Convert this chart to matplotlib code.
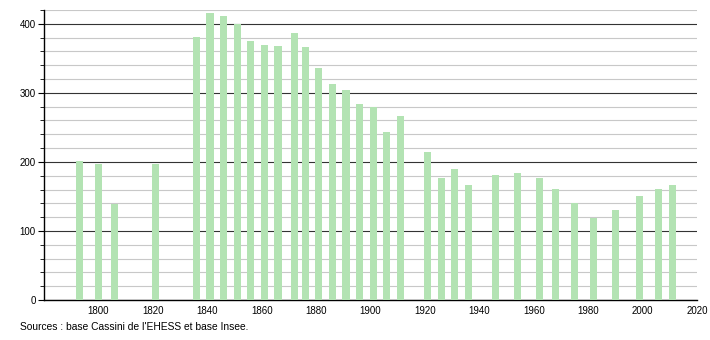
import matplotlib.pyplot as plt
import numpy as np

plt.rcParams['font.family'] = ['Liberation Sans', 'DejaVu Sans']

years = [1793, 1800, 1806, 1821, 1836, 1841, 1846, 1851, 1856, 1861, 1866, 1872,
         1876, 1881, 1886, 1891, 1896, 1901, 1906, 1911, 1921, 1926, 1931, 1936,
         1946, 1954, 1962, 1968, 1975, 1982, 1990, 1999, 2006, 2011]
population = [201, 197, 139, 197, 381, 415, 411, 400, 375, 370, 368, 387,
              366, 336, 313, 304, 284, 279, 243, 267, 214, 176, 190, 167,
              181, 184, 177, 161, 140, 119, 130, 150, 161, 167]
source_text = "Sources : base Cassini de l'EHESS et base Insee."

fig = plt.figure(figsize=(7.1, 3.4), dpi=100)
ax = fig.add_axes([44/710, 1 - 300/340, 653/710, 290/340])

ax.bar(years, population, width=2.6, color='#b3e3b3', zorder=3)

ax.set_xlim(1780, 2020)
ax.set_ylim(0, 420)
ax.set_xticks(range(1800, 2021, 20))
ax.set_yticks(range(0, 401, 100))
ax.set_yticks(range(0, 421, 20), minor=True)

ax.grid(which='minor', axis='y', color='#c8c8c8', linewidth=0.8, zorder=1)
ax.grid(which='major', axis='y', color='#333333', linewidth=0.8, zorder=2)

for s in ['top', 'right']:
    ax.spines[s].set_visible(False)
ax.spines['left'].set_linewidth(1)
ax.spines['bottom'].set_linewidth(1)

ax.tick_params(axis='x', length=0, labelsize=7, pad=4)
ax.tick_params(axis='y', which='major', length=4, labelsize=7, pad=2)
ax.tick_params(axis='y', which='minor', length=3)

fig.text(20/710, 1 - 327/340, source_text, fontsize=7.4, va='center', ha='left')

fig.savefig('out.png', dpi=100)
